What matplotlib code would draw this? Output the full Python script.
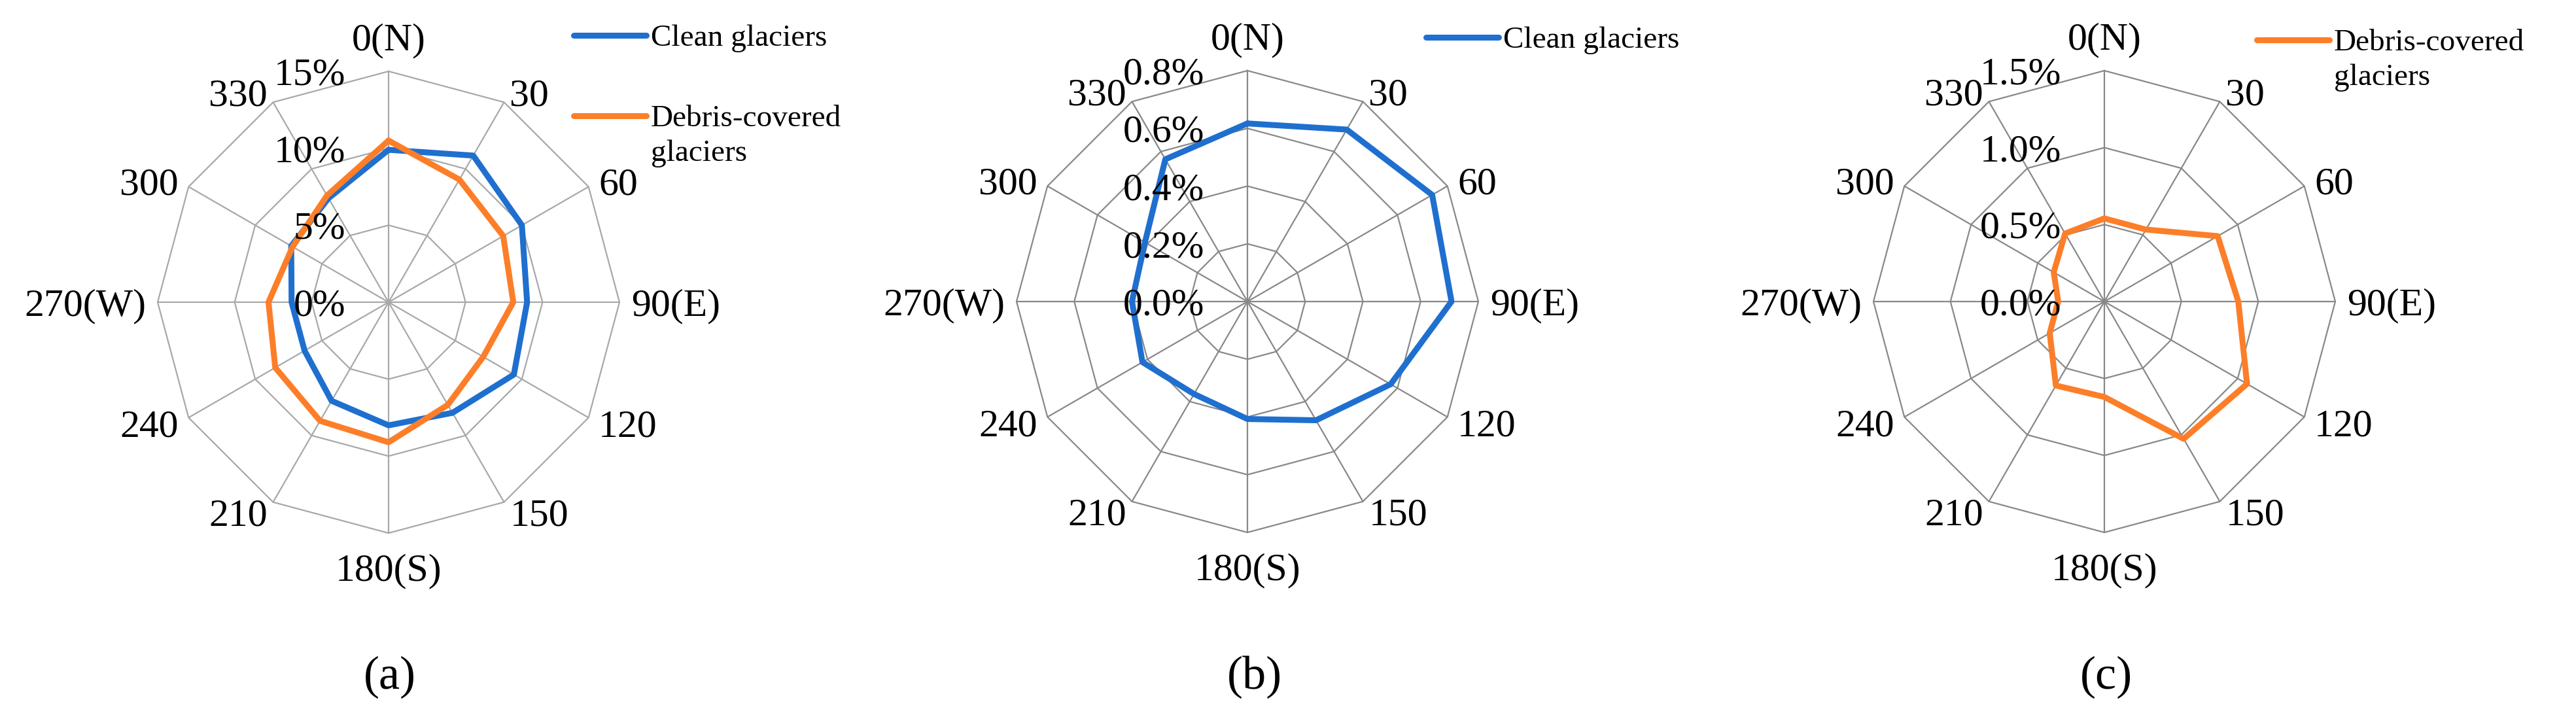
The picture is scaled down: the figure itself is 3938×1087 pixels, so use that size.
import numpy as np
import matplotlib
matplotlib.use("Agg")
import matplotlib.pyplot as plt
from matplotlib.transforms import offset_copy

plt.rcParams['font.family'] = ['Liberation Serif', 'DejaVu Serif']

# aspect directions (degrees clockwise from north)
directions = [0, 30, 60, 90, 120, 150, 180, 210, 240, 270, 300, 330]
direction_labels = ['0(N)', '30', '60', '90(E)', '120', '150', '180(S)',
                    '210', '240', '270(W)', '300', '330']

# (a) share of glacier area per aspect, %
clean_a = [9.9, 11.0, 10.0, 9.0, 9.4, 8.3, 8.0, 7.4, 6.3, 6.3, 7.3, 7.8]
debris_a = [10.5, 9.2, 8.6, 8.1, 7.1, 7.7, 9.1, 8.9, 8.5, 7.8, 7.2, 8.0]
# (b) clean glaciers, %
clean_b = [0.617, 0.688, 0.739, 0.707, 0.573, 0.475, 0.407, 0.37, 0.42, 0.40, 0.41, 0.569]
# (c) debris-covered glaciers, %
debris_c = [0.54, 0.54, 0.85, 0.87, 1.07, 1.03, 0.62, 0.63, 0.41, 0.30, 0.38, 0.51]

ticks_a = [0, 5, 10, 15]
tick_labels_a = ['0%', '5%', '10%', '15%']
ticks_b = [0, 0.2, 0.4, 0.6, 0.8]
tick_labels_b = ['0.0%', '0.2%', '0.4%', '0.6%', '0.8%']
ticks_c = [0, 0.5, 1.0, 1.5]
tick_labels_c = ['0.0%', '0.5%', '1.0%', '1.5%']

BLUE = '#1F6FCF'
ORANGE = '#FD7E28'

W, H = 3938, 1087
fig = plt.figure(figsize=(W / 100, H / 100), dpi=100)

theta = np.radians(directions)
theta_closed = np.append(theta, theta[0])


def close(vals):
    return np.append(vals, vals[0])


def radar(cx, cy, radius, ticks, tick_labels, grid_color):
    # cx, cy, radius in pixels (y from top)
    left = (cx - radius) / W
    bottom = (H - cy - radius) / H
    ax = fig.add_axes([left, bottom, 2 * radius / W, 2 * radius / H], projection='polar')
    ax.set_theta_zero_location('N')
    ax.set_theta_direction(-1)
    rmax = ticks[-1]
    ax.set_ylim(0, rmax)
    ax.set_xticks(theta)
    ax.set_xticklabels([])
    ax.set_yticks(ticks)
    ax.set_yticklabels([])
    ax.tick_params(length=0)
    ax.yaxis.grid(False)
    ax.xaxis.grid(True, color=grid_color, lw=1.6)
    ax.spines['polar'].set_visible(False)
    ax.patch.set_visible(False)

    # polygon rings like the Excel radar chart
    for r in ticks[1:]:
        ax.plot(theta_closed, [r] * len(theta_closed), color=grid_color, lw=1.6,
                zorder=1, clip_on=False)

    # direction labels
    for t, deg, lab in zip(theta, directions, direction_labels):
        if deg == 0:
            ax.text(t, rmax * 1.055, lab, ha='center', va='bottom', fontsize=43)
        elif deg == 180:
            ax.text(t, rmax * 1.09, lab, ha='center', va='top', fontsize=43)
        else:
            ha = 'left' if deg < 180 else 'right'
            ax.text(t, rmax * 1.05, lab, ha=ha, va='center_baseline', fontsize=43)

    # value labels left of the north spoke
    tr = offset_copy(ax.transData, fig=fig, x=-66, y=0, units='dots')
    for r, lab in zip(ticks, tick_labels):
        ax.text(0, r, lab, transform=tr, ha='right', va='center_baseline',
                fontsize=43, zorder=6)
    return ax


def add_legend(ax, handles, labels, x, y):
    leg = ax.legend(handles, labels, loc='upper left', bbox_to_anchor=(x / W, 1 - y / H),
                    bbox_transform=fig.transFigure, frameon=False, fontsize=34,
                    borderpad=0, borderaxespad=0, handlelength=2.35,
                    handletextpad=0.15, labelspacing=1.7)
    return leg


# (a)
ax1 = radar(594, 462, 353, ticks_a, tick_labels_a, '#A8A8A8')
l_clean, = ax1.plot(theta_closed, close(clean_a), color=BLUE, lw=6.5, zorder=3,
                    solid_capstyle='round', solid_joinstyle='round')
l_debris, = ax1.plot(theta_closed, close(debris_a), color=ORANGE, lw=6.5, zorder=4,
                     solid_capstyle='round', solid_joinstyle='round')
leg1 = add_legend(ax1, [l_clean, l_debris], ['Clean glaciers', 'Debris-covered'], 877, 37)

# (b)
ax2 = radar(1907, 461, 353, ticks_b, tick_labels_b, '#888888')
l_b, = ax2.plot(theta_closed, close(clean_b), color=BLUE, lw=6.5, zorder=3,
                solid_capstyle='round', solid_joinstyle='round')
leg2 = add_legend(ax2, [l_b], ['Clean glaciers'], 2180, 40)

# (c)
ax3 = radar(3217, 461, 353, ticks_c, tick_labels_c, '#888888')
l_c, = ax3.plot(theta_closed, close(debris_c), color=ORANGE, lw=6.5, zorder=3,
                solid_capstyle='round', solid_joinstyle='round')
leg3 = add_legend(ax3, [l_c], ['Debris-covered'], 3450, 44)

# captions
for cx, cap in [(596, '(a)'), (1918, '(b)'), (3220, '(c)')]:
    fig.text(cx / W, 1 - 1035 / H, cap, ha='center', va='center', fontsize=52)

fig.canvas.draw()
# second line of the two-line legend labels
for ax, leg in [(ax1, leg1), (ax3, leg3)]:
    txt = leg.get_texts()[-1]
    ax.annotate('glaciers', xy=(0, 0), xycoords=txt, xytext=(0, -53),
                textcoords='offset pixels', ha='left', va='bottom',
                fontsize=34, zorder=7, annotation_clip=False)

fig.savefig('out.png', dpi=100, facecolor='white')
